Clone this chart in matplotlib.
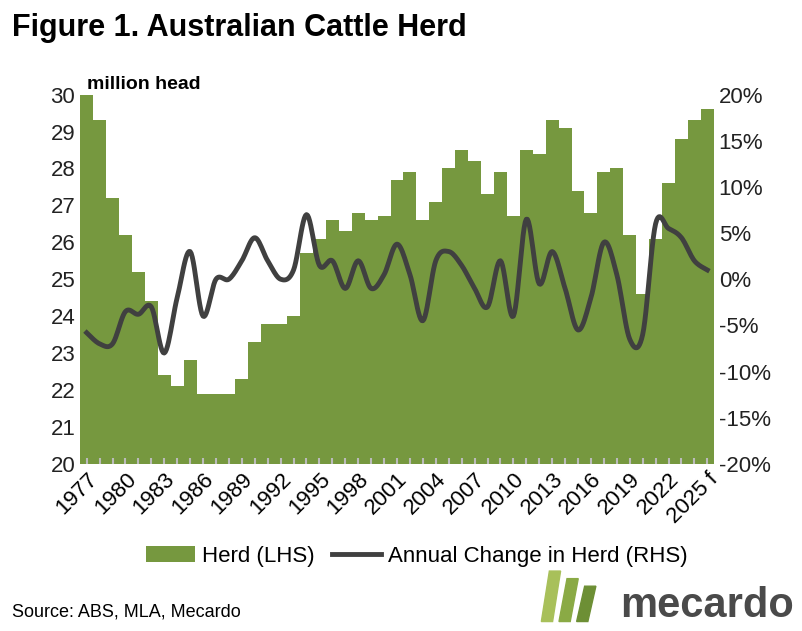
import numpy as np
import matplotlib
matplotlib.use("Agg")
import matplotlib.pyplot as plt
from matplotlib.patches import Polygon

plt.rcParams["font.family"] = ["Liberation Sans", "DejaVu Sans"]

years = list(range(1977, 2026))
herd = [30.0, 29.3, 27.2, 26.2, 25.2, 24.4, 22.4, 22.1, 22.8, 21.9,
        21.9, 21.9, 22.3, 23.3, 23.8, 23.8, 24.0, 25.7, 26.1, 26.6,
        26.3, 26.8, 26.6, 26.7, 27.7, 27.9, 26.6, 27.1, 28.0, 28.5,
        28.2, 27.3, 27.9, 26.7, 28.5, 28.4, 29.3, 29.1, 27.4, 26.8,
        27.9, 28.0, 26.2, 24.6, 26.1, 27.6, 28.8, 29.3, 29.6]
change = [-5.8, -7.0, -7.0, -3.5, -3.8, -3.0, -8.0, -2.0, 3.0, -4.0,
          0.0, 0.0, 2.0, 4.5, 2.0, 0.0, 1.0, 7.0, 1.5, 2.0,
          -1.0, 2.0, -1.0, 0.5, 3.8, 0.5, -4.5, 2.0, 3.0, 1.5,
          -1.0, -3.0, 2.0, -4.0, 6.5, -0.5, 3.0, -1.0, -5.5, -2.0,
          4.0, 0.5, -6.5, -6.0, 6.0, 5.5, 4.5, 2.0, 1.0]
tick_labels = [str(y) if y != 2025 else "2025 f" for y in years]

green = "#76983f"
dark = "#404040"


def smooth(x, y, n=12):
    # Catmull-Rom through the points, like Excel's smoothed line
    x = np.asarray(x, float); y = np.asarray(y, float)
    px = np.r_[x[0], x, x[-1]]; py = np.r_[y[0], y, y[-1]]
    xs, ys = [], []
    t = np.linspace(0, 1, n, endpoint=False)
    for i in range(1, len(px) - 2):
        for P, out in ((px, xs), (py, ys)):
            p0, p1, p2, p3 = P[i - 1], P[i], P[i + 1], P[i + 2]
            out.extend(0.5 * (2 * p1 + (-p0 + p2) * t + (2 * p0 - 5 * p1 + 4 * p2 - p3) * t ** 2
                              + (-p0 + 3 * p1 - 3 * p2 + p3) * t ** 3))
    xs.append(x[-1]); ys.append(y[-1])
    return np.array(xs), np.array(ys)


fig = plt.figure(figsize=(8.02, 6.31), dpi=100)
ax = fig.add_axes([0.1, 0.265, 0.79, 0.585])
x = np.arange(len(years))
ax.bar(x, [h - 20 for h in herd], bottom=20, width=1.0, color=green, label="Herd (LHS)")
ax.set_ylim(20, 30)
ax.set_xlim(-0.5, len(years) - 0.5)
ax.set_yticks(range(20, 31))
ax.tick_params(axis="y", length=0, labelsize=16, colors="#222")
ax.set_xticks(x[::3])
ax.set_xticklabels(tick_labels[::3], rotation=45, ha="right", rotation_mode="anchor", fontsize=16)
ax.set_xticks(x, minor=True)
ax.tick_params(axis="x", which="both", length=4, color="#bbb", width=1.5, direction="in")
for s in ax.spines.values():
    s.set_visible(False)
ax.text(0.01, 1.005, "million head", transform=ax.transAxes, fontsize=14, fontweight="bold", va="bottom")

ax2 = ax.twinx()
sx, sy = smooth(x, change)
ax2.plot(sx, sy, color=dark, lw=3.5, label="Annual Change in Herd (RHS)")
ax2.set_ylim(-20, 20)
ax2.set_yticks(range(-20, 21, 5))
ax2.set_yticklabels([f"{v}%" for v in range(-20, 21, 5)])
ax2.tick_params(axis="y", length=0, labelsize=16, colors="#222")
for s in ax2.spines.values():
    s.set_visible(False)

h1, l1 = ax.get_legend_handles_labels()
h2, l2 = ax2.get_legend_handles_labels()
fig.legend(h1 + h2, l1 + l2, loc="center", bbox_to_anchor=(0.52, 0.118), ncol=2, frameon=False,
           fontsize=16, handlelength=2.2, columnspacing=0.8, handletextpad=0.3)

fig.text(0.015, 0.955, "Figure 1. Australian Cattle Herd", fontsize=22, fontweight="bold", va="center")
fig.text(0.015, 0.03, "Source: ABS, MLA, Mecardo", fontsize=13, va="center")
fig.text(0.99, 0.04, "mecardo", fontsize=30, fontweight="bold", color="#4a4a4a", ha="right", va="center")
for i, c in enumerate(["#a8c05a", "#8aaa45", "#6d8f35"]):
    x0 = 0.675 + i * 0.022
    fig.patches.append(Polygon([[x0, 0.015], [x0 + 0.014, 0.015], [x0 + 0.024, 0.095 - i * 0.012],
                                [x0 + 0.010, 0.095 - i * 0.012]], closed=True,
                               transform=fig.transFigure, color=c))
fig.savefig("out.png")
